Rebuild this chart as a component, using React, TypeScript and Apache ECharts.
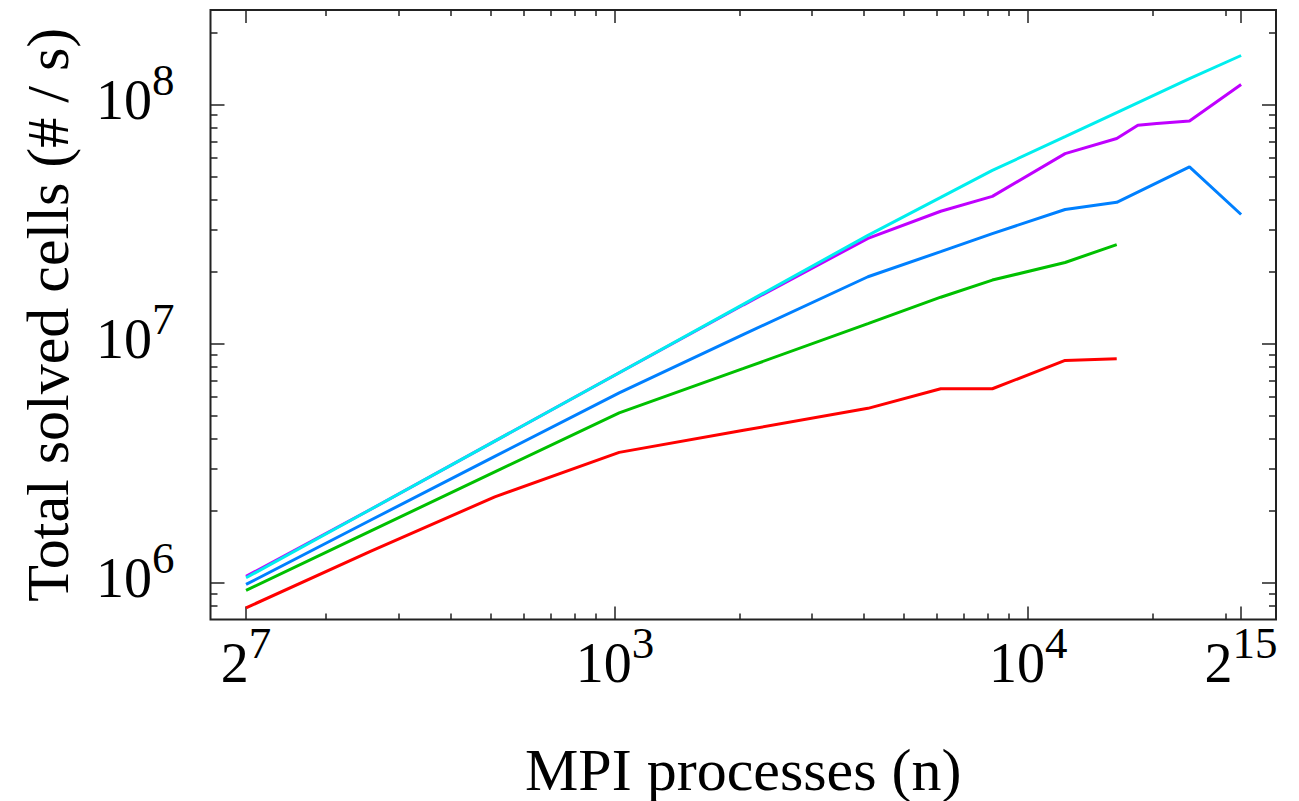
import React, { useEffect, useRef } from 'react';
import * as echarts from 'echarts';

// MPI processes (x values)
const processes = [128, 256, 512, 1024, 2048, 4096, 6144, 8192, 12288, 16384, 18432, 20480, 24576, 32768];

// Total solved cells per second for each run (null = no measurement)
const redCells = [7.83e5, 1.35e6, 2.28e6, 3.5e6, 4.33e6, 5.35e6, 6.46e6, 6.46e6, 8.49e6, 8.63e6, null, null, null, null];
const greenCells = [9.26e5, 1.64e6, 2.9e6, 5.12e6, 7.86e6, 1.21e7, 1.56e7, 1.84e7, 2.18e7, 2.59e7, null, null, null, null];
const blueCells = [9.81e5, 1.82e6, 3.37e6, 6.21e6, 1.09e7, 1.9e7, 2.42e7, 2.88e7, 3.63e7, 3.89e7, null, null, 5.47e7, 3.46e7];
const purpleCells = [1.06e6, 2.02e6, 3.9e6, 7.54e6, 1.45e7, 2.75e7, 3.57e7, 4.12e7, 6.22e7, 7.19e7, 8.17e7, 8.32e7, 8.51e7, 1.21e8];
const cyanCells = [1.046e6, 2.02e6, 3.9e6, 7.54e6, 1.46e7, 2.83e7, 4.08e7, 5.29e7, 7.32e7, 9.23e7, null, null, 1.28e8, 1.6e8];

const seriesColors = ['#ff0000', '#00c000', '#0080ff', '#c000ff', '#00eeee'];

// Tick values and labels
const xMajorTicks = [128, 1000, 10000, 32768];
const xMajorBase = ['2', '10', '10', '2'];
const xMajorExp = ['7', '3', '4', '15'];
const xMinorTicks = [200, 300, 400, 500, 600, 700, 800, 900, 2000, 3000, 4000, 5000, 6000, 7000, 8000, 9000, 20000, 30000];

const yMajorTicks = [1e6, 1e7, 1e8];
const yMajorBase = ['10', '10', '10'];
const yMajorExp = ['6', '7', '8'];
const yMinorTicks = [8e5, 9e5, 2e6, 3e6, 4e6, 5e6, 6e6, 7e6, 8e6, 9e6, 2e7, 3e7, 4e7, 5e7, 6e7, 7e7, 8e7, 9e7, 2e8];

const X_MIN = 105;
const X_MAX = 39800;
const Y_MIN = 7e5;
const Y_MAX = 2.48e8;

const FONT = '"Liberation Serif", "Times New Roman", serif';
const INK = '#222';

function makeFormatter(values: number[], bases: string[], exps: string[]) {
  return (v: number) => {
    let best = 0;
    let bestD = Infinity;
    values.forEach((t, i) => {
      const d = Math.abs(Math.log(v) - Math.log(t));
      if (d < bestD) {
        bestD = d;
        best = i;
      }
    });
    return `{b|${bases[best]}}{s|${exps[best]}}`;
  };
}

const rich = {
  b: { fontSize: 56, lineHeight: 56, fontFamily: FONT, color: '#000' },
  s: { fontSize: 45, lineHeight: 45, fontFamily: FONT, color: '#000', padding: [0, 0, 40, 0] },
};

export default function App() {
  const ref = useRef<HTMLDivElement>(null);

  useEffect(() => {
    if (!ref.current) return;
    const chart = echarts.init(ref.current, null, { renderer: 'svg' });

    const mkSeries = (name: string, vals: (number | null)[], color: string) => ({
      name,
      type: 'line',
      xAxisIndex: 0,
      yAxisIndex: 0,
      showSymbol: false,
      symbol: 'none',
      silent: true,
      data: processes
        .map((x, i) => [x, vals[i]])
        .filter((p) => p[1] !== null),
      lineStyle: { color, width: 3 },
      itemStyle: { color },
    });

    const baseX = (position: string, ticks: number[], len: number, withLabels: boolean) => ({
      type: 'log',
      position,
      min: X_MIN,
      max: X_MAX,
      logBase: 10,
      axisLine: { show: false },
      splitLine: { show: false },
      axisTick: {
        show: true,
        inside: true,
        length: len,
        customValues: ticks,
        lineStyle: { color: INK, width: 1.5 },
      },
      axisLabel: withLabels
        ? {
            show: true,
            customValues: ticks,
            margin: 15,
            formatter: makeFormatter(xMajorTicks, xMajorBase, xMajorExp),
            rich,
            fontFamily: FONT,
            color: '#000',
          }
        : { show: false },
    });

    const baseY = (position: string, ticks: number[], len: number, withLabels: boolean) => ({
      type: 'log',
      position,
      min: Y_MIN,
      max: Y_MAX,
      logBase: 10,
      axisLine: { show: false },
      splitLine: { show: false },
      axisTick: {
        show: true,
        inside: true,
        length: len,
        customValues: ticks,
        lineStyle: { color: INK, width: 1.5 },
      },
      axisLabel: withLabels
        ? {
            show: true,
            customValues: ticks,
            margin: 36,
            padding: [0, 0, 8, 0],
            formatter: makeFormatter(yMajorTicks, yMajorBase, yMajorExp),
            rich,
            fontFamily: FONT,
            color: '#000',
          }
        : { show: false },
    });

    const xMain: any = baseX('bottom', xMajorTicks, 13, true);
    xMain.name = 'MPI processes (n)';
    xMain.nameLocation = 'middle';
    xMain.nameGap = 120;
    xMain.nameTextStyle = { fontSize: 60, fontFamily: FONT, color: '#000' };

    const yMain: any = baseY('left', yMajorTicks, 14, true);
    yMain.name = 'Total solved cells (# / s)';
    yMain.nameLocation = 'middle';
    yMain.nameRotate = 90;
    yMain.nameGap = 133;
    yMain.nameTextStyle = { fontSize: 60, fontFamily: FONT, color: '#000' };

    chart.setOption({
      animation: false,
      backgroundColor: '#ffffff',
      grid: {
        left: 210.5,
        right: 23,
        top: 10,
        bottom: 181.5,
        show: true,
        borderColor: INK,
        borderWidth: 2,
        backgroundColor: 'transparent',
        outerBoundsMode: 'none',
        containLabel: false,
      },
      xAxis: [
        xMain,
        baseX('bottom', xMinorTicks, 6, false),
        baseX('top', xMajorTicks, 13, false),
        baseX('top', xMinorTicks, 6, false),
      ],
      yAxis: [
        yMain,
        baseY('left', yMinorTicks, 7, false),
        baseY('right', yMajorTicks, 14, false),
        baseY('right', yMinorTicks, 7, false),
      ],
      series: [
        mkSeries('red', redCells, seriesColors[0]),
        mkSeries('green', greenCells, seriesColors[1]),
        mkSeries('blue', blueCells, seriesColors[2]),
        mkSeries('purple', purpleCells, seriesColors[3]),
        mkSeries('cyan', cyanCells, seriesColors[4]),
      ],
    });

    return () => {
      chart.dispose();
    };
  }, []);

  return (
    <div
      ref={ref}
      style={{ position: 'absolute', left: 0, top: 0, width: 1299, height: 801, background: '#fff' }}
    />
  );
}
